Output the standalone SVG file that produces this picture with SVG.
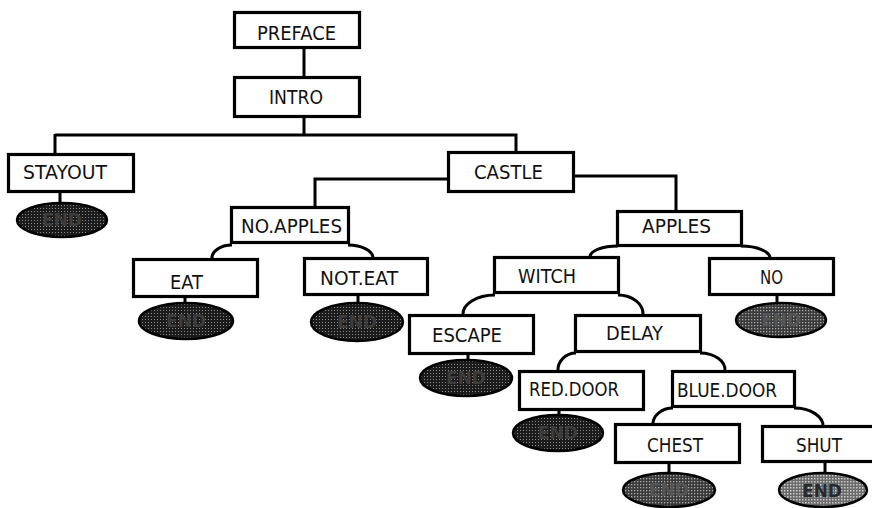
<svg xmlns="http://www.w3.org/2000/svg" width="872" height="508" viewBox="0 0 872 508">
<style>
.box{fill:#fff;stroke:#000;stroke-width:3.2}
.lbl{font-family:"DejaVu Sans","Liberation Sans",sans-serif;font-size:20px;fill:#111;text-anchor:middle}
.end{stroke:#000;stroke-width:2.5}
.et{font-family:"DejaVu Sans","Liberation Sans",sans-serif;font-size:17px;font-weight:bold;text-anchor:middle}
#conn path,#conn line{fill:none;stroke:#000;stroke-width:3}
</style>
<defs>
<pattern id="dk" width="3" height="3" patternUnits="userSpaceOnUse"><rect width="3" height="3" fill="#1c1c1c"/><rect x="1" y="1" width="1" height="1" fill="#8a8a8a"/></pattern>
<pattern id="md" width="3" height="3" patternUnits="userSpaceOnUse"><rect width="3" height="3" fill="#3a3a3a"/><rect x="1" y="1" width="1.3" height="1.3" fill="#aaa"/></pattern>
<pattern id="lt" width="3" height="3" patternUnits="userSpaceOnUse"><rect width="3" height="3" fill="#6a6a6a"/><rect x="1" y="1" width="1.5" height="1.5" fill="#ccc"/></pattern>
</defs>
<rect width="872" height="508" fill="#fff"/>
<g id="conn">
<line x1="304" y1="48" x2="304" y2="78"/>
<path d="M304 117 V135 M55 135 H516 V152 M55 134 V155"/>
<path d="M448 179 H315 V208"/>
<path d="M574 176 H676 V212"/>
<path d="M232 245 A20 13 0 0 0 212 259"/>
<path d="M348 245 A25 13 0 0 1 373 258"/>
<path d="M618 246 A28 11 0 0 0 590 257"/>
<path d="M741 246 A29 12 0 0 1 770 258"/>
<path d="M495 295 A32 19 0 0 0 463 315"/>
<path d="M618 295 A25 19 0 0 1 643 315"/>
<path d="M576 353 A18 17 0 0 0 558 371"/>
<path d="M700 353 A25 17 0 0 1 725 371"/>
<path d="M673 408 A20 16 0 0 0 653 425"/>
<path d="M794 408 A29 18 0 0 1 823 427"/>
<path d="M60 192 V204 M185 297 V304 M358 295 V304 M777 295 V304 M468 354 V361 M559 410 V416 M669 463 V474 M825 462 V474"/>
</g>
<g id="n-preface"><rect class="box" x="234.5" y="12.5" width="125" height="35"/><text class="lbl" x="296.5" y="39.5" textLength="79" lengthAdjust="spacingAndGlyphs">PREFACE</text></g>
<g id="n-intro"><rect class="box" x="234.5" y="77.5" width="125" height="39"/><text class="lbl" x="296" y="104" textLength="54" lengthAdjust="spacingAndGlyphs">INTRO</text></g>
<g id="n-stayout"><rect class="box" x="8.5" y="154.5" width="125" height="37"/><text class="lbl" x="65" y="179" textLength="84" lengthAdjust="spacingAndGlyphs">STAYOUT</text></g>
<g id="n-castle"><rect class="box" x="448.5" y="152.5" width="125" height="39"/><text class="lbl" x="508.5" y="179" textLength="69" lengthAdjust="spacingAndGlyphs">CASTLE</text></g>
<g id="n-noapples"><rect class="box" x="231.5" y="207.5" width="117" height="35"/><text class="lbl" x="291.5" y="233" textLength="101" lengthAdjust="spacingAndGlyphs">NO.APPLES</text></g>
<g id="n-apples"><rect class="box" x="617.5" y="211.5" width="124" height="34"/><text class="lbl" x="676.5" y="233" textLength="69" lengthAdjust="spacingAndGlyphs">APPLES</text></g>
<g id="n-eat"><rect class="box" x="133.5" y="259.5" width="124" height="37"/><text class="lbl" x="186.5" y="289" textLength="33" lengthAdjust="spacingAndGlyphs">EAT</text></g>
<g id="n-noteat"><rect class="box" x="304.5" y="258.5" width="123" height="36"/><text class="lbl" x="359" y="285" textLength="78" lengthAdjust="spacingAndGlyphs">NOT.EAT</text></g>
<g id="n-witch"><rect class="box" x="494.5" y="257.5" width="124" height="35"/><text class="lbl" x="547" y="283" textLength="58" lengthAdjust="spacingAndGlyphs">WITCH</text></g>
<g id="n-no"><rect class="box" x="709.5" y="258.5" width="124" height="36"/><text class="lbl" x="771.5" y="284" textLength="23" lengthAdjust="spacingAndGlyphs">NO</text></g>
<g id="n-escape"><rect class="box" x="409.5" y="315.5" width="124" height="38"/><text class="lbl" x="467" y="342" textLength="70" lengthAdjust="spacingAndGlyphs">ESCAPE</text></g>
<g id="n-delay"><rect class="box" x="575.5" y="315.5" width="125" height="36"/><text class="lbl" x="634.5" y="340" textLength="57" lengthAdjust="spacingAndGlyphs">DELAY</text></g>
<g id="n-reddoor"><rect class="box" x="519.5" y="371.5" width="124" height="38"/><text class="lbl" x="574" y="396" textLength="90" lengthAdjust="spacingAndGlyphs">RED.DOOR</text></g>
<g id="n-bluedoor"><rect class="box" x="672.5" y="371.5" width="122" height="35"/><text class="lbl" x="727" y="397" textLength="100" lengthAdjust="spacingAndGlyphs">BLUE.DOOR</text></g>
<g id="n-chest"><rect class="box" x="615.5" y="424.5" width="124" height="38"/><text class="lbl" x="675" y="452" textLength="56" lengthAdjust="spacingAndGlyphs">CHEST</text></g>
<g id="n-shut"><rect class="box" x="762.5" y="426.5" width="124" height="35"/><text class="lbl" x="819" y="452" textLength="46" lengthAdjust="spacingAndGlyphs">SHUT</text></g>
<g id="e-stayout"><ellipse class="end" cx="62" cy="220" rx="45" ry="17" fill="url(#dk)"/><text class="et" x="62" y="226" fill="#3c3c3c">END</text></g>
<g id="e-eat"><ellipse class="end" cx="186" cy="321" rx="47" ry="18" fill="url(#dk)"/><text class="et" x="186" y="327" fill="#3c3c3c">END</text></g>
<g id="e-noteat"><ellipse class="end" cx="357" cy="322" rx="46" ry="19" fill="url(#dk)"/><text class="et" x="357" y="328" fill="#3c3c3c">END</text></g>
<g id="e-no"><ellipse class="end" cx="781" cy="320" rx="45" ry="17" fill="url(#md)"/><text class="et" x="781" y="326" fill="#555">END</text></g>
<g id="e-escape"><ellipse class="end" cx="466" cy="378" rx="46" ry="18" fill="url(#dk)"/><text class="et" x="466" y="384" fill="#3c3c3c">END</text></g>
<g id="e-reddoor"><ellipse class="end" cx="558" cy="433" rx="45" ry="18" fill="url(#dk)"/><text class="et" x="558" y="439" fill="#3c3c3c">END</text></g>
<g id="e-chest"><ellipse class="end" cx="669" cy="490" rx="46" ry="17" fill="url(#md)"/><text class="et" x="669" y="496" fill="#555">END</text></g>
<g id="e-shut"><ellipse class="end" cx="823" cy="490" rx="44" ry="17" fill="url(#lt)"/><text class="et" x="822" y="497" fill="#2a2a2a">END</text></g>
</svg>
